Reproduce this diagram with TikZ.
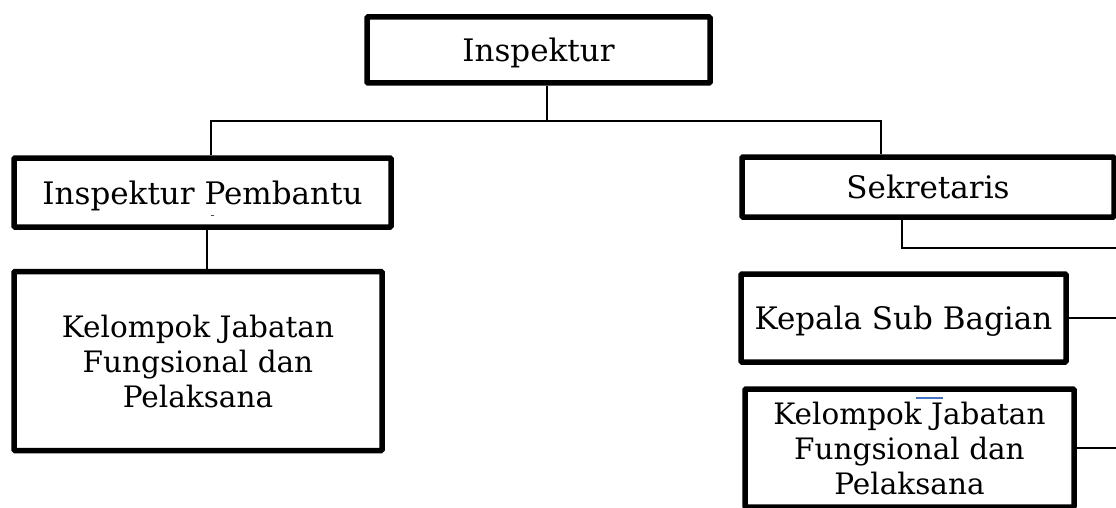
\documentclass[tikz,border=0pt]{standalone}
\usepackage{fontspec}
\setmainfont{DejaVu Serif}
\definecolor{wordblue}{RGB}{68,114,196}
\begin{document}
\begin{tikzpicture}[x=1pt,y=-1pt,
  box/.style={draw=black, line width=5.5pt, rounded corners=1pt, inner sep=0pt,
    align=center, font=\fontsize{31}{35}\selectfont, text depth=0pt},
  groupbox/.style={box, font=\fontsize{29.5}{35}\selectfont},
  conn/.style={draw=black, line width=1.4pt}]
\useasboundingbox (0,0) rectangle (1116,508);
\clip (0,0) rectangle (1116,508);
% boxes
\node[box, minimum width=343pt, minimum height=66pt] (insp) at (538.5,50) {Inspektur};
\node[box, minimum width=377pt, minimum height=69pt] (ip) at (202.5,192.5) {Inspektur Pembantu};
\node[groupbox, minimum width=368pt, minimum height=179pt] (kjl) at (198,361) {Kelompok Jabatan\\Fungsional dan\\Pelaksana};
\node[box, minimum width=372pt, minimum height=60pt] (sek) at (928,187) {Sekretaris};
\node[box, minimum width=325pt, minimum height=88pt] (ksb) at (903.5,318) {Kepala Sub Bagian};
\node[groupbox, minimum width=329pt, minimum height=118pt] (kjr) at (909.5,448) {Kelompok Jabatan\\Fungsional dan\\Pelaksana};
% helper coordinates
\coordinate (bar) at (547,121);
\coordinate (xl) at (211,0);
\coordinate (xr) at (881,0);
\coordinate (xip) at (207,0);
\coordinate (sekbar) at (902,248);
\coordinate (edge) at (1116,0);
% connectors
\draw[conn] (insp.south -| bar) -- (bar);
\draw[conn] (ip.north -| xl) |- (bar) -| (sek.north -| xr);
\draw[conn] (ip.south -| xip) -- (kjl.north -| xip);
\draw[conn] (sek.south -| sekbar) -- (sekbar) -- (sekbar -| edge);
\draw[conn] (ksb.east) -- (ksb.east -| edge);
\draw[conn] (kjr.east) -- (kjr.east -| edge);
% small marks
\draw[black!70, line width=0.8pt] (210.5,215) -- (213.5,215);
\draw[wordblue, line width=1.5pt] (916,398) -- (943,398);
\end{tikzpicture}
\end{document}
